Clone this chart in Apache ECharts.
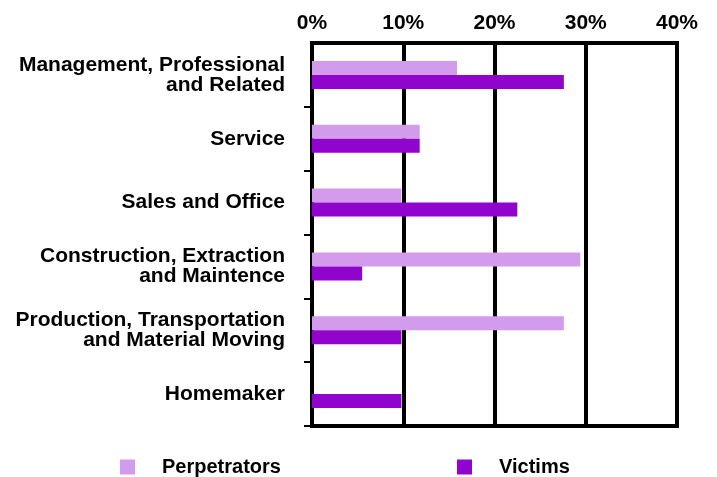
<!DOCTYPE html>
<html>
<head>
<meta charset="utf-8">
<script src="https://cdn.jsdelivr.net/npm/echarts@6/dist/echarts.min.js"></script>
<style>
  html, body { margin: 0; padding: 0; background: #fff; }
  #chart { width: 717px; height: 477px; }
</style>
</head>
<body>
<div id="chart"></div>
<script>
const categories = [
  "Management, Professional\nand Related",
  "Service",
  "Sales and Office",
  "Construction, Extraction\nand Maintence",
  "Production, Transportation\nand Material Moving",
  "Homemaker"
];
const perpetrators = [15.9, 11.8, 9.8, 29.4, 27.6, 0];
const victims = [27.6, 11.8, 22.5, 5.5, 9.8, 9.8];
const xTicks = [0, 10, 20, 30, 40];

const font = "Liberation Sans, Arial, sans-serif";
const chart = echarts.init(document.getElementById("chart"));

const legendText = {
  rich: { t: { fontFamily: font, fontWeight: "bold", fontSize: 20, color: "#000", padding: [0, 0, 0, 22] } }
};

chart.setOption({
  animation: false,
  grid: {
    left: 312, right: 40, top: 43, bottom: 51,
    show: true, borderColor: "#000", borderWidth: 4
  },
  legend: [
    {
      data: ["Perpetrators"], left: 115, top: 452,
      itemWidth: 15, itemHeight: 15, icon: "rect",
      formatter: "{t|{name}}", textStyle: legendText
    },
    {
      data: ["Victims"], left: 452, top: 452,
      itemWidth: 15, itemHeight: 15, icon: "rect",
      formatter: "{t|{name}}", textStyle: legendText
    }
  ],
  xAxis: {
    type: "value", position: "top",
    min: xTicks[0], max: xTicks[xTicks.length - 1], interval: 10,
    axisLine: { show: true, lineStyle: { color: "#000", width: 4 } },
    axisTick: { show: false },
    splitLine: { show: true, lineStyle: { color: "#000", width: 4 } },
    axisLabel: {
      formatter: "{value}%", margin: 9,
      fontFamily: font, fontWeight: "bold", fontSize: 21, color: "#000"
    }
  },
  yAxis: {
    type: "category", inverse: true, data: categories,
    axisLine: { show: true, lineStyle: { color: "#000", width: 4 } },
    axisTick: {
      show: true, length: 8, interval: (i) => i > 0,
      lineStyle: { color: "#000", width: 2 }
    },
    axisLabel: {
      margin: 27, fontFamily: font, fontWeight: "bold", fontSize: 21,
      lineHeight: 20, color: "#000", align: "right"
    }
  },
  series: [
    {
      name: "Perpetrators", type: "bar", data: perpetrators,
      barWidth: 14, barGap: "0%",
      itemStyle: { color: "#D39BEB" }
    },
    {
      name: "Victims", type: "bar", data: victims,
      barWidth: 14,
      itemStyle: { color: "#9004CE" }
    }
  ]
});
</script>
</body>
</html>
